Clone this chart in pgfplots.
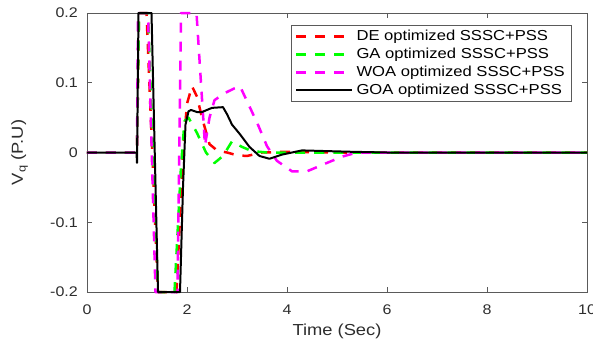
\documentclass[border=0pt]{standalone}
\usepackage{pgfplots}
\pgfplotsset{compat=1.18}
\usepackage{fontspec}
\setmainfont{Liberation Sans}[FakeStretch=1.15]
\definecolor{axgray}{RGB}{90,90,90}
\definecolor{txtgray}{RGB}{45,45,45}
\definecolor{mred}{RGB}{255,0,0}
\definecolor{mgreen}{RGB}{0,255,0}
\definecolor{mmag}{RGB}{255,0,255}
\begin{document}
\begin{tikzpicture}
\begin{axis}[
  scale only axis, width=500bp, height=279bp,
  xmin=0, xmax=10, ymin=-0.2, ymax=0.2,
  xtick={0,2,4,6,8,10}, ytick={-0.2,-0.1,0,0.1,0.2},
  tick align=inside, major tick length=5bp,
  axis line style={draw=axgray, line width=0.9bp},
  tick style={draw=axgray, line width=0.9bp},
  /pgf/number format/assume math mode=true,
  tick label style={font=\fontsize{14}{14}\selectfont, text=txtgray},
  yticklabel style={/pgf/number format/fixed, /pgf/number format/precision=1, anchor=east, inner sep=0pt, xshift=-9bp},
  xticklabel style={anchor=base, inner sep=0pt, yshift=-22bp},
  xlabel={Time (Sec)},
  ylabel={V\textsubscript{q} (P.U)},
  label style={font=\fontsize{16}{16}\selectfont, text=txtgray},
  xlabel style={at={(axis description cs:0.5,-0.1577)}, anchor=base, inner sep=0pt},
  ylabel style={at={(axis description cs:-0.128,0.5)}, anchor=base, inner sep=0pt, rotate=0},
  clip=false,
  legend cell align=left,
  legend image code/.code={\draw[#1] (0bp,0bp) -- (56bp,0bp);},
  legend style={at={(0.97,0.957)}, anchor=north east, draw=axgray, line width=0.6bp,
    font=\fontsize{14.5}{14.5}\selectfont, text=black,
    inner xsep=4bp, inner ysep=2bp, row sep=0bp,
    nodes={inner xsep=3bp, inner ysep=2bp, text height=11bp, text depth=3bp}},
]
\coordinate (sw) at (rel axis cs:0,0);
\coordinate (ne) at (rel axis cs:1,1);
% DE
\addplot[mred, line width=2.5bp, line join=round, dash pattern=on 10bp off 9bp] coordinates {
(0,0) (1.0,0) (1.04,0.2) (1.19,0.2) (1.42,-0.2) (1.79,-0.2) (1.92,0.0) (2.0,0.07) (2.1,0.095)
(2.2,0.08) (2.3,0.05) (2.45,0.012) (2.6,0.003) (2.8,0.0) (3.0,-0.004) (3.2,-0.005) (3.5,0) (4,0.001) (5,0) (10,0)};
\addlegendentry{DE optimized SSSC+PSS}
% GA
\addplot[mgreen, line width=2.5bp, line join=round, dash pattern=on 10bp off 9bp] coordinates {
(0,0) (1.0,0) (1.04,0.2) (1.22,0.2) (1.42,-0.2) (1.75,-0.2) (1.88,-0.02) (1.95,0.045) (2.03,0.05)
(2.2,0.028) (2.38,0.0) (2.55,-0.015) (2.72,-0.005) (2.9,0.016) (3.1,0.008) (3.3,0.002) (3.6,0) (10,0)};
\addlegendentry{GA optimized SSSC+PSS}
% WOA
\addplot[mmag, line width=2.5bp, line join=round, dash pattern=on 10bp off 9bp] coordinates {
(0,0) (1.0,0) (1.02,0.2) (1.22,0.2) (1.37,-0.2) (1.81,-0.2) (1.88,0.2) (2.19,0.2) (2.36,0.01)
(2.45,0.05) (2.55,0.075) (2.75,0.085) (2.95,0.092) (3.06,0.095) (3.25,0.066) (3.43,0.038)
(3.6,0.009) (3.8,-0.012) (4.1,-0.027) (4.4,-0.027) (4.73,-0.017) (5.1,-0.006) (5.4,0) (10,0)};
\addlegendentry{WOA optimized SSSC+PSS}
% GOA
\addplot[black, line width=2bp, line join=round] coordinates {
(0,0) (0.99,0) (1.0,-0.015) (1.03,0.2) (1.29,0.2) (1.42,-0.2) (1.86,-0.2) (1.92,-0.05) (1.97,0.04)
(2.03,0.059) (2.08,0.061) (2.2,0.058) (2.3,0.058) (2.5,0.064) (2.72,0.065) (2.8,0.055) (2.9,0.040)
(3.05,0.027) (3.25,0.008) (3.45,-0.005) (3.65,-0.009) (3.9,-0.003) (4.3,0.003) (4.8,0.002)
(5.3,0.001) (6,0) (10,0)};
\addlegendentry{GOA optimized SSSC+PSS}
\end{axis}
\pgfresetboundingbox
\path[use as bounding box] ([shift={(-87bp,-55bp)}]sw) rectangle ([shift={(6bp,13bp)}]ne);
\end{tikzpicture}
\end{document}
